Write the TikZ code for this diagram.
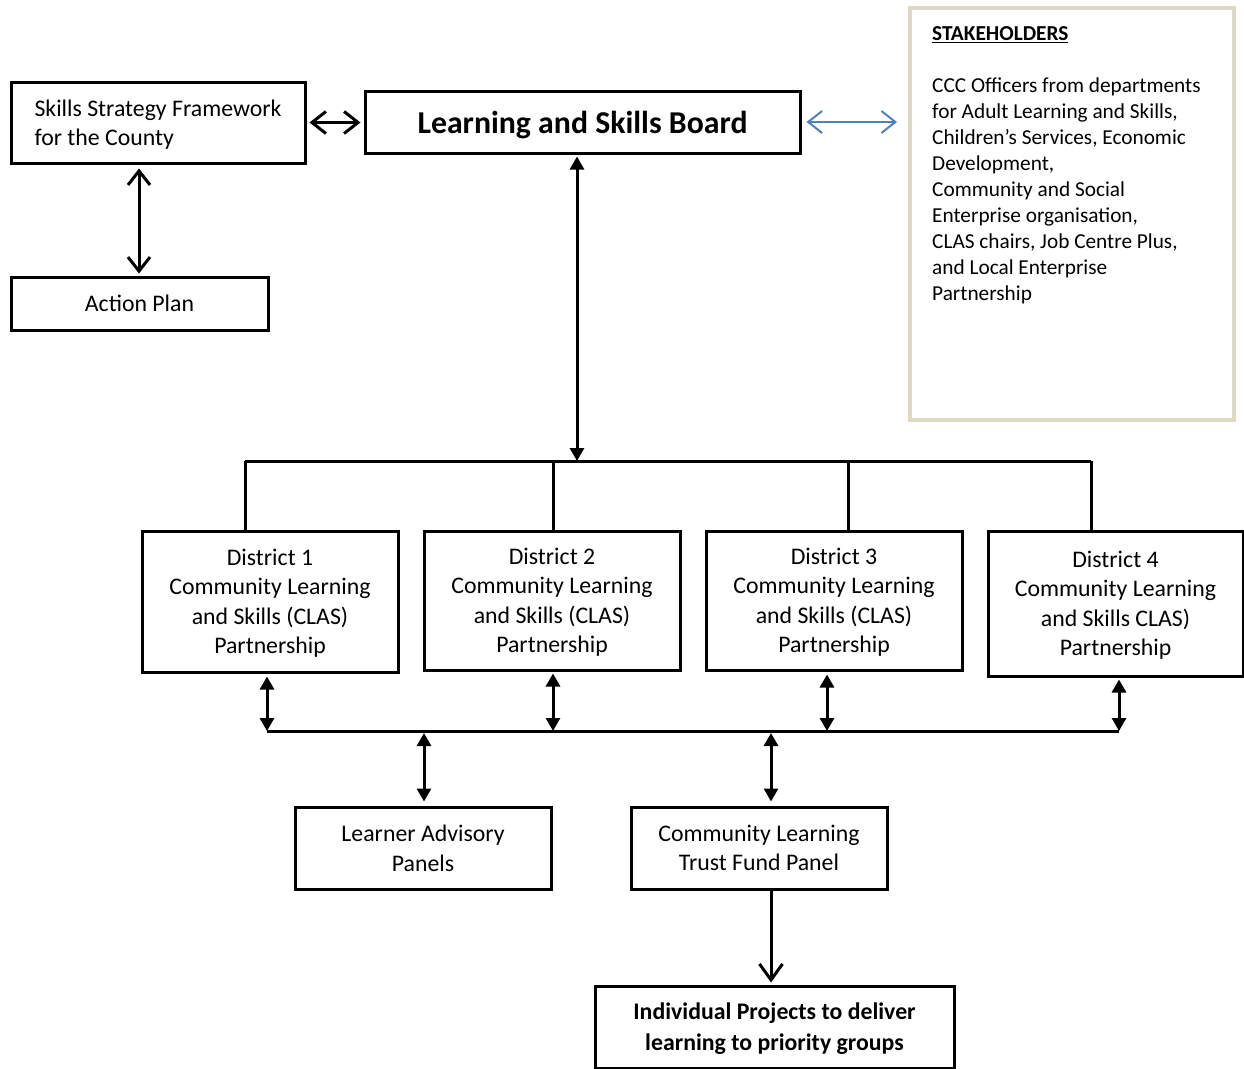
\documentclass[tikz,border=0pt]{standalone}
\usepackage{fontspec}
\setmainfont{Carlito}
\usetikzlibrary{arrows.meta}
\definecolor{beige}{RGB}{221,217,195}
\definecolor{arrblue}{RGB}{79,129,189}
\begin{document}
\begin{tikzpicture}[x=1pt,y=-1pt,
  box/.style={draw, line width=3pt, inner sep=0pt, text depth=0pt, align=center, font=\fontsize{23.8}{29.5}\selectfont},
  tri/.style={line width=3pt, {Triangle[length=13pt,width=14pt]}-{Triangle[length=13pt,width=14pt]}},
  barb/.style={line width=3pt, {Straight Barb[length=14pt,width=22pt,line width=3pt]}-{Straight Barb[length=14pt,width=22pt,line width=3pt]}},
  bus/.style={line width=3pt}]
\useasboundingbox (0,0) rectangle (1244,1068);
% nodes
\node[box, minimum width=294pt, minimum height=81pt, align=left] (ssf) at (158,122.5) {Skills Strategy Framework\\for the County};
\node[box, minimum width=435pt, minimum height=62pt, font=\fontsize{31.8}{36}\selectfont\bfseries] (lsb) at (582.5,122) {Learning and Skills Board};
\node[box, minimum width=257pt, minimum height=53pt] (ap) at (139.5,303.5) {Action Plan};
\node[draw=beige, line width=4pt, minimum width=324pt, minimum height=412pt, inner sep=0pt] (stake) at (1072,214) {};
\node[anchor=north west, inner sep=0pt, align=left, font=\fontsize{21.3}{26}\selectfont] (staketext) at (932,26)
  {\textbf{\underline{STAKEHOLDERS}}\\[26pt]
   CCC Officers from departments\\
   for Adult Learning and Skills,\\
   Children’s Services, Economic\\
   Development,\\
   Community and Social\\
   Enterprise organisation,\\
   CLAS chairs, Job Centre Plus,\\
   and Local Enterprise\\
   Partnership};
\node[box, minimum width=256pt, minimum height=141pt] (d1) at (270,601.5) {District 1\\Community Learning\\and Skills (CLAS)\\Partnership};
\node[box, minimum width=256pt, minimum height=139pt] (d2) at (552,600.5) {District 2\\Community Learning\\and Skills (CLAS)\\Partnership};
\node[box, minimum width=256pt, minimum height=139pt] (d3) at (834,600.5) {District 3\\Community Learning\\and Skills (CLAS)\\Partnership};
\node[box, minimum width=255pt, minimum height=145pt] (d4) at (1115.5,603.5) {District 4\\Community Learning\\and Skills CLAS)\\Partnership};
\node[box, minimum width=256pt, minimum height=82pt] (lap) at (423,848) {Learner Advisory\\Panels};
\node[box, minimum width=256pt, minimum height=82pt] (cltf) at (759,848) {Community Learning\\Trust Fund Panel};
\node[box, minimum width=359pt, minimum height=82pt, font=\fontsize{23.8}{31}\selectfont\bfseries] (ip) at (774.5,1027) {Individual Projects to deliver\\learning to priority groups};
% coordinates
\coordinate (tb1) at (245,461);
\coordinate (tb2) at (553,461);
\coordinate (tb3) at (848,461);
\coordinate (tb4) at (1091,461);
\coordinate (tbm) at (577,461);
\coordinate (bb1) at (267,731);
\coordinate (bb2) at (553,731);
\coordinate (bb3) at (827,731);
\coordinate (bb4) at (1119,731);
\coordinate (bbl) at (424,731);
\coordinate (bbr) at (771,731);
\coordinate (bluend) at (897,122);
% connectors
\draw[barb, shorten <=3pt, shorten >=3pt] (ssf.east) -- (ssf.east -| lsb.west);
\draw[arrblue, line width=2pt, {Straight Barb[length=14pt,width=22pt,line width=2pt]}-{Straight Barb[length=14pt,width=22pt,line width=2pt]}, shorten <=5pt] (lsb.east) -- (bluend);
\draw[barb, shorten <=4pt, shorten >=2pt] (ssf.south -| 139,0) -- (ap.north -| 139,0);
\draw[tri, shorten <=2pt] (lsb.south -| tbm) -- (tbm);
\draw[bus] (tb1) -- (tb4);
\draw[bus] (tb1) -- (tb1 |- d1.north);
\draw[bus] (tb2) -- (tb2 |- d2.north);
\draw[bus] (tb3) -- (tb3 |- d3.north);
\draw[bus] (tb4) -- (tb4 |- d4.north);
\draw[bus] (bb1) -- (bb4);
\draw[tri, shorten <=3pt] (d1.south -| bb1) -- (bb1);
\draw[tri, shorten <=2pt] (d2.south -| bb2) -- (bb2);
\draw[tri, shorten <=3pt] (d3.south -| bb3) -- (bb3);
\draw[tri, shorten <=2pt] (d4.south -| bb4) -- (bb4);
\draw[tri, shorten <=2pt, shorten >=4pt] (bbl) -- (bbl |- lap.north);
\draw[tri, shorten <=2pt, shorten >=4pt] (bbr) -- (bbr |- cltf.north);
\draw[line width=3pt, -{Straight Barb[length=16pt,width=23pt,line width=3pt]}, shorten >=2pt] (cltf.south -| bbr) -- (ip.north -| bbr);
\end{tikzpicture}
\end{document}
